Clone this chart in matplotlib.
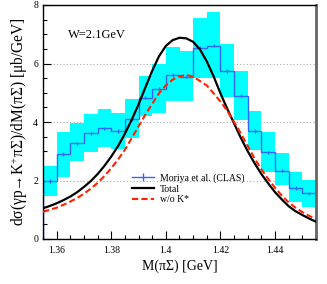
import numpy as np
import matplotlib
matplotlib.use('Agg')
from matplotlib import pyplot as plt
from matplotlib.lines import Line2D

plt.rcParams['font.family'] = ['Liberation Serif', 'DejaVu Serif']
plt.rcParams['mathtext.fontset'] = 'custom'
plt.rcParams['mathtext.rm'] = 'Liberation Serif'
plt.rcParams['mathtext.it'] = 'Liberation Serif:italic'

# CLAS data (Moriya et al.), bins of 5 MeV
edges = [1.355, 1.360, 1.365, 1.370, 1.375, 1.380, 1.385, 1.390, 1.395, 1.400, 1.405,
         1.410, 1.415, 1.420, 1.425, 1.430, 1.435, 1.440, 1.445, 1.450, 1.455]
clas = [1.99, 2.90, 3.27, 3.61, 3.78, 3.70, 4.09, 4.83, 5.12, 5.61,
        5.55, 6.54, 6.61, 5.74, 4.90, 3.70, 2.96, 2.34, 1.75, 1.56]
clas_err = [0.06, 0.06, 0.06, 0.06, 0.06, 0.06, 0.06, 0.06, 0.06, 0.06,
            0.06, 0.06, 0.06, 0.06, 0.06, 0.06, 0.06, 0.06, 0.06, 0.06]
band_hi = [2.50, 3.67, 3.98, 4.27, 4.44, 4.32, 4.78, 5.57, 5.98, 6.55,
           6.44, 7.55, 7.75, 6.67, 5.75, 4.39, 3.67, 2.93, 2.28, 2.02]
band_lo = [1.47, 2.13, 2.68, 2.98, 3.13, 3.07, 3.44, 4.20, 4.30, 4.73,
           4.73, 5.50, 5.50, 4.87, 4.07, 3.04, 2.28, 1.85, 1.28, 1.10]

# model curves
m = [1.3550, 1.3575, 1.3600, 1.3625, 1.3650, 1.3675, 1.3700, 1.3725, 1.3750, 1.3775,
     1.3800, 1.3825, 1.3850, 1.3875, 1.3900, 1.3925, 1.3950, 1.3975, 1.4000, 1.4025,
     1.4050, 1.4075, 1.4100, 1.4125, 1.4150, 1.4175, 1.4200, 1.4225, 1.4250, 1.4275,
     1.4300, 1.4325, 1.4350, 1.4375, 1.4400, 1.4425, 1.4450, 1.4475, 1.4500, 1.4525,
     1.4550]
total = [1.05, 1.13, 1.22, 1.33, 1.45, 1.60, 1.78, 1.98, 2.22, 2.50,
         2.82, 3.18, 3.60, 4.08, 4.60, 5.18, 5.75, 6.25, 6.60, 6.80,
         6.88, 6.86, 6.74, 6.48, 6.07, 5.56, 4.98, 4.45, 3.95, 3.45,
         3.00, 2.59, 2.22, 1.90, 1.60, 1.35, 1.12, 0.95, 0.82, 0.70,
         0.59]
no_kstar = [0.93, 1.00, 1.07, 1.17, 1.28, 1.40, 1.55, 1.72, 1.92, 2.15,
            2.42, 2.72, 3.05, 3.45, 3.85, 4.25, 4.62, 4.98, 5.25, 5.45,
            5.56, 5.61, 5.55, 5.40, 5.25, 4.98, 4.70, 4.38, 4.00, 3.60,
            3.18, 2.75, 2.38, 2.05, 1.75, 1.48, 1.25, 1.07, 0.92, 0.79,
            0.68]

centers = [(edges[i] + edges[i + 1]) / 2 for i in range(len(clas))]

fig = plt.figure(figsize=(3.27, 2.84), dpi=100)
ax = fig.add_axes([43/327, 45/284, 273/327, 234/284])

ax.stairs(band_hi, edges, baseline=band_lo, fill=True, color='#00ffff', lw=0, zorder=1)
ax.stairs(clas, edges, color='#3366ff', lw=1.0, zorder=2)
ax.errorbar(centers, clas, yerr=clas_err, fmt='none', ecolor='#3366ff',
            elinewidth=1.0, capsize=0, zorder=3)
l_tot, = ax.plot(m, total, color='black', lw=1.6, zorder=4)
l_nok, = ax.plot(m, no_kstar, color='#ff2200', lw=1.5, ls=(0, (3, 1.5)), zorder=5)

# legend handle for data: line with vertical tick
h_clas = Line2D([], [], color='#3366ff', lw=1.0, marker='|', markersize=6)
ax.legend([h_clas, l_tot, l_nok], ['Moriya et al. (CLAS)', 'Total', 'w/o K*'],
          loc='upper left', bbox_to_anchor=(0.325, 0.28),
          frameon=False, fontsize=7, handlelength=2.3, labelspacing=0.15,
          borderpad=0, borderaxespad=0, handletextpad=0.6)

ax.set_xlim(1.355, 1.455)
ax.set_ylim(0, 8)
ax.set_xticks([1.36, 1.38, 1.40, 1.42, 1.44])
ax.set_xticklabels(['1.36', '1.38', '1.4', '1.42', '1.44'])
ax.set_xticks(np.arange(1.355, 1.4551, 0.005), minor=True)
ax.set_yticks([0, 2, 4, 6, 8])
ax.set_yticks(np.arange(0, 8.01, 0.5), minor=True)
ax.tick_params(which='both', direction='in', labelsize=7, width=0.8)
ax.tick_params(which='major', length=6)
ax.tick_params(which='minor', length=3)
ax.tick_params(axis='x', pad=5)
ax.yaxis.grid(True, which='major', ls=(0, (1, 2)), color='#aaaaaa', lw=0.8)
ax.set_axisbelow(True)

for s in ['left', 'top', 'bottom']:
    ax.spines[s].set_linewidth(1.0)
ax.spines['right'].set_color('#666666')
ax.spines['right'].set_linewidth(2.0)

ax.text(0.09, 0.87, 'W=2.1GeV', transform=ax.transAxes, fontsize=9, va='center')
ax.set_xlabel('M(πΣ) [GeV]', fontsize=10, labelpad=3)
ax.set_ylabel('dσ(γp→K$^{+}$πΣ)/dM(πΣ) [μb/GeV]', fontsize=11.2, labelpad=2)

fig.savefig('out.png', dpi=100)
